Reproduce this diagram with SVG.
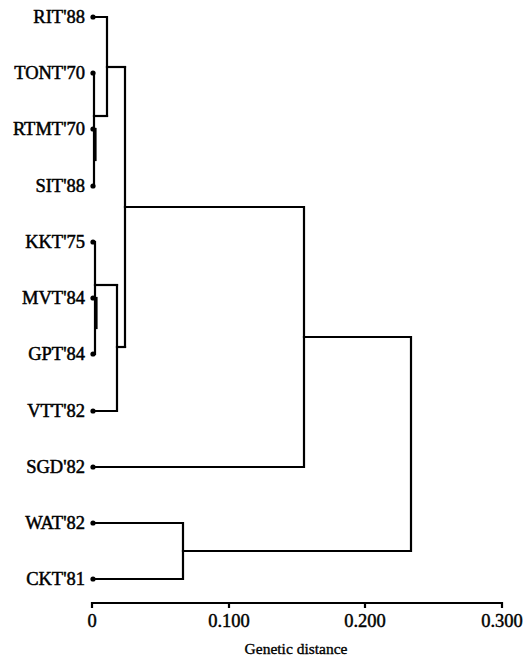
<svg xmlns="http://www.w3.org/2000/svg" width="527" height="659" viewBox="0 0 527 659">
  <style>
    text { font-family: 'Liberation Serif', 'Times New Roman', 'DejaVu Serif', serif; fill: #000; }
    .lbl { font-size: 18.5px; text-anchor: end; stroke: #000; stroke-width: 0.5; }
    .tick { font-size: 18.5px; text-anchor: middle; stroke: #000; stroke-width: 0.45; }
    .title { font-size: 15.5px; text-anchor: middle; stroke: #000; stroke-width: 0.35; }
    .br { fill: none; stroke: #000; stroke-width: 2.2; stroke-linecap: square; stroke-linejoin: miter; }
    .dot { fill: #000; }
  </style>
  <rect width="527" height="659" fill="#fff"/>

  <!-- leaves -->
  <g id="leaf-RIT88"><circle class="dot" cx="93" cy="17" r="2.6"/><text class="lbl" x="85" y="23">RIT'88</text></g>
  <g id="leaf-TONT70"><circle class="dot" cx="93" cy="73" r="2.6"/><text class="lbl" x="85" y="79">TONT'70</text></g>
  <g id="leaf-RTMT70"><circle class="dot" cx="93" cy="129" r="2.6"/><text class="lbl" x="85" y="135">RTMT'70</text></g>
  <g id="leaf-SIT88"><circle class="dot" cx="93" cy="186" r="2.6"/><text class="lbl" x="85" y="192">SIT'88</text></g>
  <g id="leaf-KKT75"><circle class="dot" cx="93" cy="242" r="2.6"/><text class="lbl" x="85" y="248">KKT'75</text></g>
  <g id="leaf-MVT84"><circle class="dot" cx="93" cy="298" r="2.6"/><text class="lbl" x="85" y="304">MVT'84</text></g>
  <g id="leaf-GPT84"><circle class="dot" cx="93" cy="354" r="2.6"/><text class="lbl" x="85" y="360">GPT'84</text></g>
  <g id="leaf-VTT82"><circle class="dot" cx="93" cy="411" r="2.6"/><text class="lbl" x="85" y="417">VTT'82</text></g>
  <g id="leaf-SGD82"><circle class="dot" cx="93" cy="467" r="2.6"/><text class="lbl" x="85" y="473">SGD'82</text></g>
  <g id="leaf-WAT82"><circle class="dot" cx="93" cy="523" r="2.6"/><text class="lbl" x="85" y="529">WAT'82</text></g>
  <g id="leaf-CKT81"><circle class="dot" cx="93" cy="579" r="2.6"/><text class="lbl" x="85" y="585">CKT'81</text></g>

  <!-- dendrogram branches -->
  <g id="connectors">
    <!-- TONT / RTMT / SIT cluster -->
    <path class="br" d="M94 73 V186"/>
    <path class="br" d="M95.5 129 V160"/>
    <path class="br" d="M94 116 H107"/>
    <!-- RIT joins -->
    <path class="br" d="M93 17 H107 V116"/>
    <path class="br" d="M107 67 H125"/>
    <!-- KKT / MVT / GPT cluster -->
    <path class="br" d="M95 242 V354"/>
    <path class="br" d="M96.5 298 V328"/>
    <path class="br" d="M95 285 H117"/>
    <!-- VTT joins -->
    <path class="br" d="M93 411 H117 V285"/>
    <path class="br" d="M117 347 H125"/>
    <!-- upper group -->
    <path class="br" d="M125 67 V347"/>
    <path class="br" d="M125 207 H304 V467 H93"/>
    <!-- WAT / CKT -->
    <path class="br" d="M93 523 H183 V579 H93"/>
    <path class="br" d="M183 551 H411 V337 H304"/>
  </g>

  <!-- distance axis -->
  <g id="axis">
    <path class="br" d="M92 607 V603 H502 V607"/>
    <path class="br" d="M229 603 V607 M365 603 V607"/>
    <text class="tick" x="92" y="627">0</text>
    <text class="tick" x="229" y="627">0.100</text>
    <text class="tick" x="365" y="627">0.200</text>
    <text class="tick" x="502" y="627">0.300</text>
    <text class="title" x="296" y="654">Genetic distance</text>
  </g>
</svg>
